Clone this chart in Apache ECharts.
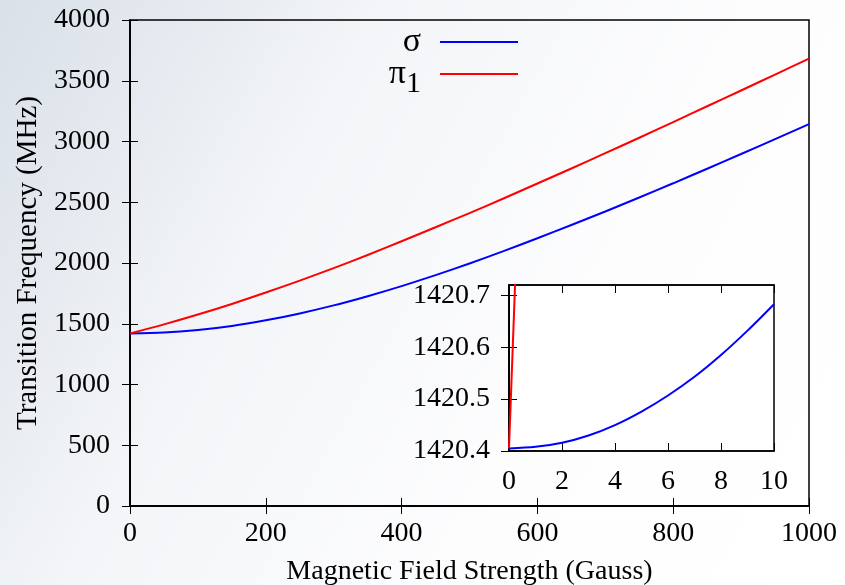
<!DOCTYPE html>
<html>
<head>
<meta charset="utf-8">
<script src="https://cdn.jsdelivr.net/npm/echarts@6/dist/echarts.min.js"></script>
<style>
    html, body { margin: 0; padding: 0; }
    #myCharts { width: 845px; height: 585px; }
</style>
</head>
<body>
<div id="myCharts"></div>
<script>
    // main plot: field strength (Gauss) vs transition frequency (MHz)
    const bField = [0, 50, 100, 150, 200, 250, 300, 350, 400, 450, 500,
                    550, 600, 650, 700, 750, 800, 850, 900, 950, 1000];
    const sigmaFreq = [1420.4, 1427, 1448, 1481, 1528, 1585, 1651, 1727, 1810, 1900, 1996,
                       2098, 2204, 2313, 2424, 2539, 2656, 2776, 2897, 3020, 3143];
    const pi1Freq = [1420.4, 1495, 1576, 1663, 1757, 1855, 1958, 2066, 2179, 2294, 2411,
                     2531, 2654, 2778, 2904, 3031, 3160, 3290, 3420, 3551, 3682];

    // inset: first 10 Gauss
    const insetField = [0, 1, 2, 3, 4, 5, 6, 7, 8, 9, 10];
    const insetSigma = [1420.405, 1420.408, 1420.416, 1420.430, 1420.450, 1420.476,
                        1420.507, 1420.543, 1420.585, 1420.632, 1420.683];
    const insetPiField = [0, 0.25];
    const insetPi = [1420.405, 1420.75];

    const insetYTicks = [1420.4, 1420.5, 1420.6, 1420.7];
    const font = 'Liberation Serif';

    function pairs(xs, ys) {
        return xs.map((x, i) => [x, ys[i]]);
    }

    const myCharts = echarts.init(document.getElementById('myCharts'));

    const tickIn = { show: true, inside: true, length: 8, lineStyle: { color: '#000', width: 1 } };
    const frameLine = { show: true, lineStyle: { color: '#000', width: 1.5 } };
    const labelStyle = { color: '#000', fontFamily: font, fontSize: 28, formatter: v => String(v) };

    let options = {
        animation: false,
        backgroundColor: {
            type: 'linear', x: 0, y: 0, x2: 1, y2: 0.8,
            colorStops: [
                { offset: 0, color: '#d9e0e8' },
                { offset: 0.35, color: '#f3f5f8' },
                { offset: 0.7, color: '#fdfdfe' },
                { offset: 1, color: '#ffffff' }
            ]
        },
        legend: {
            orient: 'vertical',
            right: 322,
            top: 20,
            align: 'right',
            itemWidth: 78,
            itemHeight: 2,
            itemGap: -2,
            icon: 'rect',
            selectedMode: false,
            data: ['σ', 'π1'],
            formatter: function (name) {
                // π with a lowered subscript 1
                return name === 'σ' ? '{a|σ}' : '{b|π}{s|1}';
            },
            textStyle: {
                fontFamily: font,
                color: '#000',
                rich: {
                    a: { fontFamily: font, fontSize: 34, width: 34, align: 'right', lineHeight: 28, padding: [0, 14, 0, 0] },
                    b: { fontFamily: font, fontSize: 34, lineHeight: 50, verticalAlign: 'middle' },
                    s: { fontFamily: font, fontSize: 30, lineHeight: 22, verticalAlign: 'bottom', padding: [0, 14, 0, 0] }
                }
            }
        },
        grid: [
            { left: 130, right: 36, top: 20, bottom: 79, outerBoundsMode: 'none', show: true, borderColor: '#000', borderWidth: 1.5, backgroundColor: 'transparent' },
            { left: 509, right: 71, top: 285, bottom: 134, outerBoundsMode: 'none', show: true, borderColor: '#000', borderWidth: 1.5, backgroundColor: '#ffffff' }
        ],
        xAxis: [
            {
                gridIndex: 0, type: 'value', min: 0, max: 1000, interval: 200,
                axisLine: frameLine, axisTick: tickIn, splitLine: { show: false },
                axisLabel: Object.assign({ margin: 14 }, labelStyle),
                name: 'Magnetic Field Strength (Gauss)', nameLocation: 'middle', nameGap: 52,
                nameTextStyle: { color: '#000', fontFamily: font, fontSize: 28 }
            },
            {
                gridIndex: 0, type: 'value', position: 'top', min: 0, max: 1000, interval: 200,
                axisLine: frameLine, axisTick: tickIn, splitLine: { show: false }, axisLabel: { show: false }
            },
            {
                gridIndex: 1, type: 'value', min: 0, max: 10, interval: 2,
                axisLine: frameLine, axisTick: tickIn, splitLine: { show: false },
                axisLabel: Object.assign({ margin: 17 }, labelStyle)
            },
            {
                gridIndex: 1, type: 'value', position: 'top', min: 0, max: 10, interval: 2,
                axisLine: frameLine, axisTick: tickIn, splitLine: { show: false }, axisLabel: { show: false }
            }
        ],
        yAxis: [
            {
                gridIndex: 0, type: 'value', min: 0, max: 4000, interval: 500,
                axisLine: frameLine, axisTick: tickIn, splitLine: { show: false },
                axisLabel: Object.assign({ margin: 20 }, labelStyle),
                name: 'Transition Frequency (MHz)', nameLocation: 'middle', nameGap: 82,
                nameTextStyle: { color: '#000', fontFamily: font, fontSize: 29 }
            },
            {
                gridIndex: 0, type: 'value', position: 'right', min: 0, max: 4000, interval: 500,
                axisLine: frameLine, axisTick: tickIn, splitLine: { show: false }, axisLabel: { show: false }
            },
            {
                gridIndex: 1, type: 'value', min: 1420.4, max: 1420.72,
                axisLine: frameLine,
                axisTick: Object.assign({ customValues: insetYTicks }, tickIn),
                splitLine: { show: false },
                axisLabel: Object.assign({}, labelStyle, { margin: 19, customValues: insetYTicks, formatter: v => v.toFixed(1) })
            },
            {
                gridIndex: 1, type: 'value', position: 'right', min: 1420.4, max: 1420.72,
                axisLine: frameLine,
                axisTick: Object.assign({ customValues: insetYTicks }, tickIn),
                splitLine: { show: false }, axisLabel: { show: false }
            }
        ],
        series: [
            {
                name: 'σ', type: 'line', xAxisIndex: 0, yAxisIndex: 0,
                showSymbol: false, smooth: 0.3, color: '#0000ff',
                lineStyle: { color: '#0000ff', width: 2 },
                data: pairs(bField, sigmaFreq)
            },
            {
                name: 'π1', type: 'line', xAxisIndex: 0, yAxisIndex: 0,
                showSymbol: false, smooth: 0.3, color: '#ff0000',
                lineStyle: { color: '#ff0000', width: 2 },
                data: pairs(bField, pi1Freq)
            },
            {
                name: 'σ', type: 'line', xAxisIndex: 2, yAxisIndex: 2,
                showSymbol: false, smooth: 0.3, clip: true, color: '#0000ff',
                lineStyle: { color: '#0000ff', width: 2 },
                data: pairs(insetField, insetSigma)
            },
            {
                name: 'π1', type: 'line', xAxisIndex: 2, yAxisIndex: 2,
                showSymbol: false, clip: true, color: '#ff0000',
                lineStyle: { color: '#ff0000', width: 2 },
                data: pairs(insetPiField, insetPi)
            }
        ]
    };
    myCharts.setOption(options);
</script>
</body>
</html>
